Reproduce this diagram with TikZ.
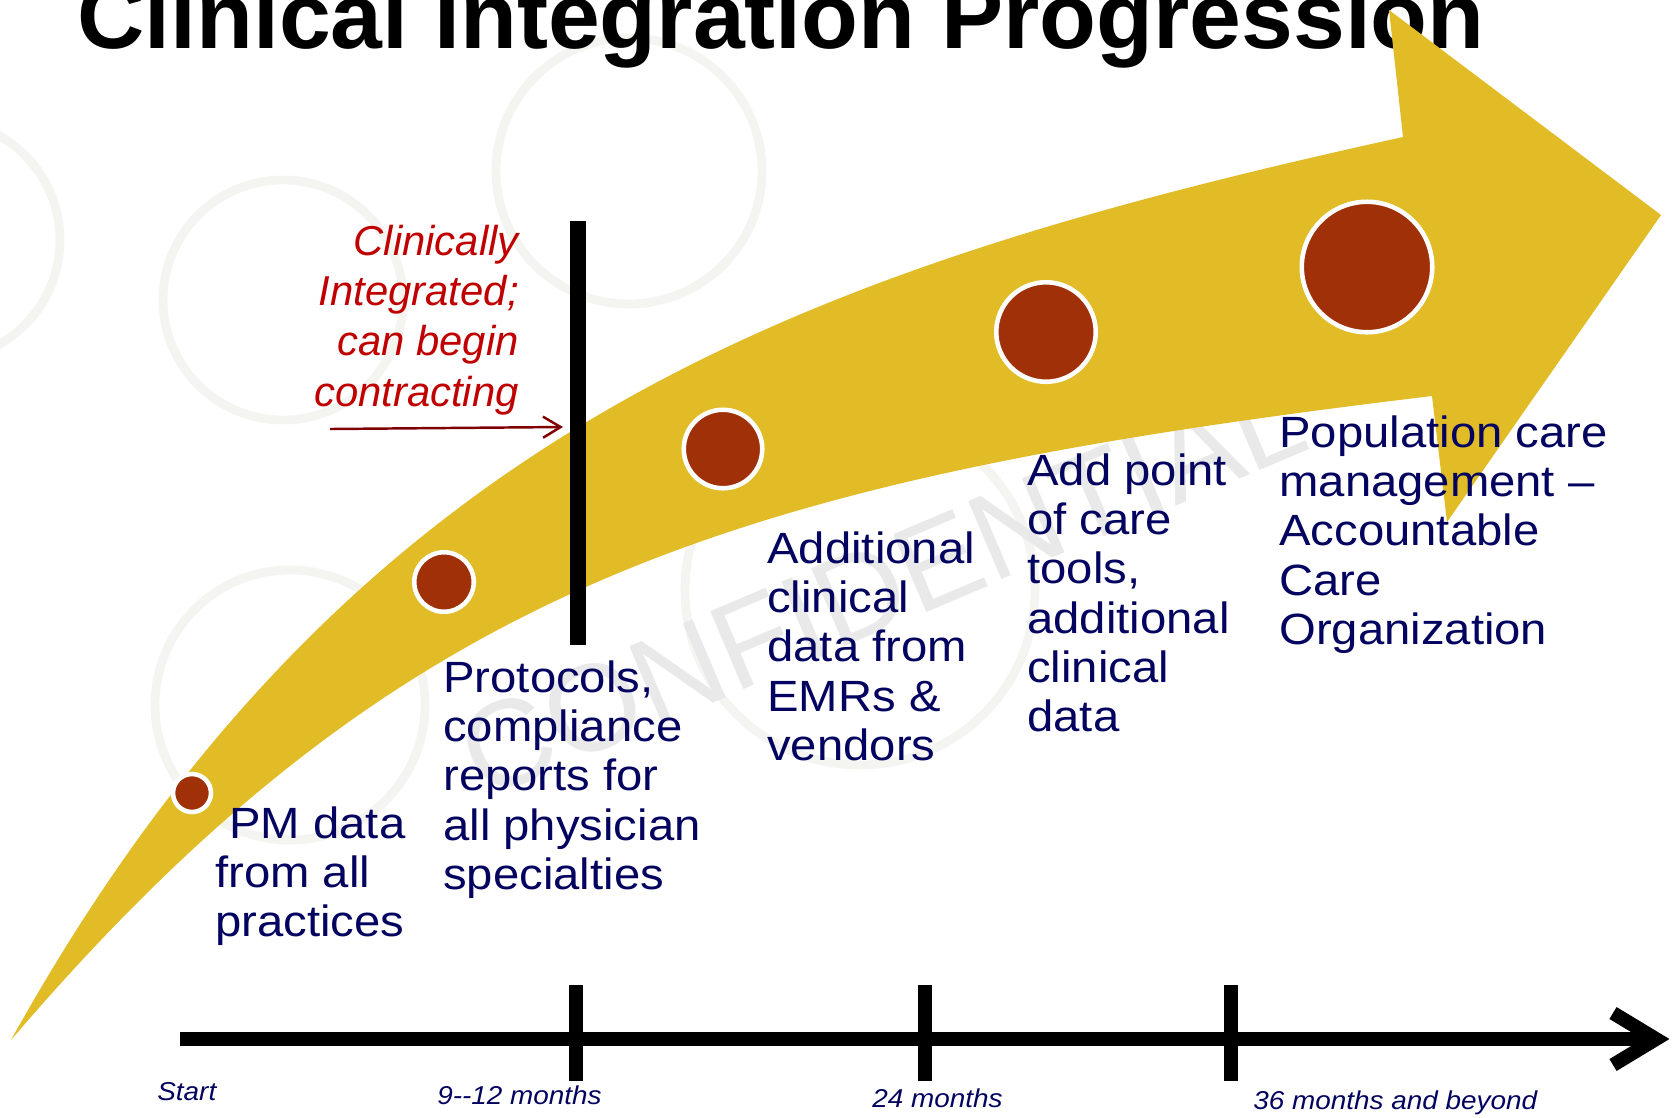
\documentclass[tikz,border=0pt]{standalone}
\usepackage{fontspec}
\setmainfont{Liberation Sans}
\newfontfamily\navyfamily[FakeStretch=1.08]{Liberation Sans}
\usetikzlibrary{arrows.meta}

\definecolor{band}{RGB}{225,188,38}
\definecolor{dotfill}{RGB}{160,48,8}
\definecolor{navy}{RGB}{4,4,96}
\definecolor{notered}{RGB}{192,0,0}
\definecolor{notearrow}{RGB}{128,0,0}
\definecolor{mark}{RGB}{244,244,241}
\definecolor{marktext}{RGB}{233,233,233}

% stacked lines with a fixed baseline distance; the box baseline is the first line
\newcommand\stackleft[2]{\vtop{\baselineskip=#1\relax\halign{##\hfil\cr#2\crcr}}}
\newcommand\stackright[2]{\vtop{\baselineskip=#1\relax\halign{\hfil##\cr#2\crcr}}}

\begin{document}
\begin{tikzpicture}[x=0.02cm, y=-0.02cm,
  stagedot/.style={circle, fill=dotfill, draw=white, line width=2.6pt, inner sep=0pt, minimum size=#1},
  stage/.style={anchor=base west, inner sep=0pt, text=navy, font=\navyfamily\fontsize{24.9}{28.1}\selectfont},
  note/.style={anchor=base east, inner sep=0pt, text=notered, font=\fontsize{23.8}{28.7}\selectfont\itshape},
  when/.style={anchor=base west, inner sep=0pt, text=navy, font=\navyfamily\fontsize{14.7}{17}\selectfont\itshape},
  tick/.style={line width=7.9pt},
  ring/.style={draw=mark, line width=5pt},
]
\useasboundingbox (0,0) rectangle (1672,1117);
\clip (0,0) rectangle (1672,1117);
\fill[white] (0,0) rectangle (1672,1117);

% faint logo in the background
\draw[ring] (629,171) circle[radius=133];
\draw[ring] (-60,240) circle[radius=120];
\draw[ring] (283,300) circle[radius=120];
\draw[ring] (290,705) circle[radius=135];
\draw[ring] (860,590) circle[radius=175];
\node[rotate=23, text=marktext, font=\fontsize{70}{70}\selectfont] (wm) at (882,585) {CONFIDENTIAL};

% title
\node[anchor=base west, inner sep=0pt, font=\fontsize{53}{60}\selectfont\bfseries] (title) at (77,48) {Clinical Integration Progression};

% curved progression arrow
\fill[band] (11,1040) .. controls (351,428) and (803,269) .. (1403,137)
  -- (1389,10) -- (1661,215) -- (1447,522) -- (1432,396)
  .. controls (732,480) and (401,584) .. (11,1040) -- cycle;

% milestone bar
\coordinate (bartop) at (578,221);
\coordinate (barbot) at (578,645);
\draw[line width=9.1pt] (bartop) -- (barbot);

% milestones
\node[stagedot=0.76cm] (d1) at (192,793) {};
\node[stagedot=1.19cm] (d2) at (444,582) {};
\node[stagedot=1.57cm] (d3) at (723,449) {};
\node[stagedot=1.99cm] (d4) at (1046,332) {};
\node[stagedot=2.61cm] (d5) at (1367,267) {};

% note on the bar
\node[note] (ci) at (519,255) {\stackright{28.7pt}{Clinically\cr Integrated;\cr can begin\cr contracting}};
\coordinate (ciA) at (330,429);
\coordinate (ciB) at (563,427);
\draw[notearrow, line width=1.4pt, -{Straight Barb[length=10pt, width=12pt, line width=1.4pt]}] (ciA) -- (ciB);

% stage descriptions
\node[stage] (s1) at (215,838) {\stackleft{28.1pt}{\hspace*{8pt}PM data\cr from all\cr practices}};
\node[stage] (s2) at (443,692) {\stackleft{28.1pt}{Protocols,\cr compliance\cr reports for\cr all physician\cr specialties}};
\node[stage] (s3) at (767,563) {\stackleft{28.1pt}{Additional\cr clinical\cr data from\cr EMRs \&\cr vendors}};
\node[stage] (s4) at (1027,485) {\stackleft{28.1pt}{Add point\cr of care\cr tools,\cr additional\cr clinical\cr data}};
\node[stage] (s5) at (1279,447) {\stackleft{28.1pt}{Population care\cr management –\cr Accountable\cr Care\cr Organization}};

% timeline
\coordinate (t0) at (180,1039);
\coordinate (t1) at (1650,1039);
\draw[line width=7.9pt] (t0) -- (t1);
\coordinate (ch1) at (1613,1013);
\coordinate (chtip) at (1656,1039);
\coordinate (ch2) at (1613,1065);
\draw[line width=7.9pt, miter limit=10] (ch1) -- (chtip) -- (ch2);
\foreach \x/\n in {576/a, 925/b, 1231/c}{
  \coordinate (k\n top) at (\x,985);
  \coordinate (k\n bot) at (\x,1081);
  \draw[tick] (k\n top) -- (k\n bot);
}
\node[when] (l0) at (157,1100) {Start};
\node[when] (l1) at (437,1104) {9-{}-12 months};
\node[when] (l2) at (872,1107) {24 months};
\node[when] (l3) at (1253,1109) {36 months and beyond};
\end{tikzpicture}
\end{document}
